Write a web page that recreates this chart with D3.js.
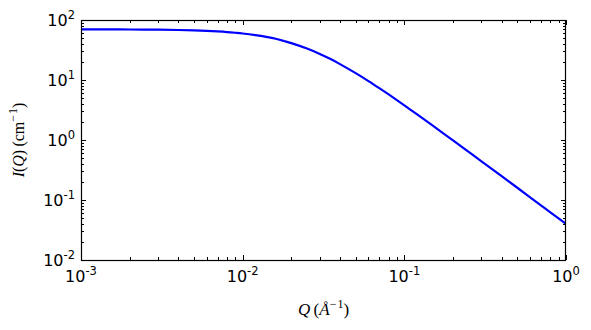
<!DOCTYPE html>
<html><head><meta charset="utf-8">
<script src="https://cdn.jsdelivr.net/npm/d3@7"></script>
<style>html,body{margin:0;padding:0;background:#fff}</style>
</head><body>
<svg id="c" width="591" height="330"></svg>
<script>
const qValues = [0.001,0.0015,0.002,0.003,0.004,0.005,0.006,0.007,0.008,0.009,0.01,0.012,0.014,0.016,0.018,0.02,0.025,0.03,0.035,0.04,0.05,0.06,0.07,0.08,0.1,0.12,0.15,0.2,0.25,0.3,0.4,0.5,0.6,0.7,0.8,1.0];
const iValues = [69.9,69.7,69.5,68.9,68.1,67.1,65.9,64.5,63.0,61.3,59.6,55.9,52.2,48.6,44.7,41.2,33.4,27.2,22.3,18.4,13.0,9.59,7.31,5.74,3.78,2.67,1.73,0.986,0.634,0.442,0.249,0.160,0.111,0.0815,0.0624,0.0400];
const xTickExps = [-3,-2,-1,0];
const yTickExps = [-2,-1,0,1,2];

const svg = d3.select("#c");
const L=81, R=566, T=20, B=260;
const x = d3.scaleLog().domain([1e-3,1]).range([L,R]);
const y = d3.scaleLog().domain([1e-2,1e2]).range([B,T]);

const g = svg.append("g");
function minors(lo,hi){const a=[];for(let e=lo;e<hi;e++)for(let m=2;m<=9;m++)a.push(m*Math.pow(10,e));return a;}
const xMinor = minors(-3,0), yMinor = minors(-2,2);
const maj=5, mnr=3;
xMinor.forEach(v=>{const px=Math.round(x(v))+0.5;
  g.append("line").attr("x1",px).attr("x2",px).attr("y1",B).attr("y2",B-mnr).attr("stroke","#000");
  g.append("line").attr("x1",px).attr("x2",px).attr("y1",T).attr("y2",T+mnr).attr("stroke","#000");});
xTickExps.forEach(e=>{const px=Math.round(x(Math.pow(10,e)))+0.5;
  g.append("line").attr("x1",px).attr("x2",px).attr("y1",B).attr("y2",B-maj).attr("stroke","#000");
  g.append("line").attr("x1",px).attr("x2",px).attr("y1",T).attr("y2",T+maj).attr("stroke","#000");});
yMinor.forEach(v=>{const py=Math.round(y(v))+0.5;
  g.append("line").attr("x1",L).attr("x2",L+mnr).attr("y1",py).attr("y2",py).attr("stroke","#000");
  g.append("line").attr("x1",R).attr("x2",R-mnr).attr("y1",py).attr("y2",py).attr("stroke","#000");});
yTickExps.forEach(e=>{const py=Math.round(y(Math.pow(10,e)))+0.5;
  g.append("line").attr("x1",L).attr("x2",L+maj).attr("y1",py).attr("y2",py).attr("stroke","#000");
  g.append("line").attr("x1",R).attr("x2",R-maj).attr("y1",py).attr("y2",py).attr("stroke","#000");});

svg.append("clipPath").attr("id","cp").append("rect").attr("x",L).attr("y",T).attr("width",R-L).attr("height",B-T);
const pts = qValues.map((q,i)=>[q,iValues[i]]);
svg.append("path").datum(pts)
  .attr("d", d3.line().x(d=>x(d[0])).y(d=>y(d[1])).curve(d3.curveCatmullRom.alpha(0.5)))
  .attr("fill","none").attr("stroke","#0000ff").attr("stroke-width",2.2)
  .attr("stroke-linejoin","round").attr("clip-path","url(#cp)");

svg.append("rect").attr("x",L+0.5).attr("y",T+0.5).attr("width",R-L-1).attr("height",B-T).attr("fill","none").attr("stroke","#000").attr("stroke-width",1.2);

const fs=16;
xTickExps.forEach(e=>{
  const t = svg.append("text").attr("x",x(Math.pow(10,e))).attr("y",B+22)
    .attr("text-anchor","middle").attr("font-family","DejaVu Sans").attr("font-size",fs);
  t.append("tspan").text("10");
  t.append("tspan").attr("dy",-7).attr("font-size",11.5).text(String(e));
});
yTickExps.forEach(e=>{
  const t = svg.append("text").attr("x",L-6).attr("y",y(Math.pow(10,e))+6)
    .attr("text-anchor","end").attr("font-family","DejaVu Sans").attr("font-size",fs);
  t.append("tspan").text("10");
  t.append("tspan").attr("dy",-7).attr("font-size",11.5).text(String(e));
});

const xl = svg.append("text").attr("x",(L+R)/2).attr("y",315).attr("text-anchor","middle")
  .attr("font-family","Liberation Serif").attr("font-size",17);
xl.append("tspan").attr("font-style","italic").text("Q");
xl.append("tspan").text("\u2009(");
xl.append("tspan").attr("font-style","italic").text("Å");
xl.append("tspan").attr("dy",-7).attr("font-size",12).text("\u2212\u200A1");
xl.append("tspan").attr("dy",7).text(")");

const yl = svg.append("text").attr("transform",`translate(24,${(T+B)/2}) rotate(-90)`).attr("text-anchor","middle")
  .attr("font-family","Liberation Serif").attr("font-size",16);
yl.append("tspan").attr("font-style","italic").text("I");
yl.append("tspan").text("(");
yl.append("tspan").attr("font-style","italic").text("Q");
yl.append("tspan").text(")\u2009(cm");
yl.append("tspan").attr("dy",-7).attr("font-size",12).text("\u2212\u200A1");
yl.append("tspan").attr("dy",7).text(")");
</script>
</body></html>
